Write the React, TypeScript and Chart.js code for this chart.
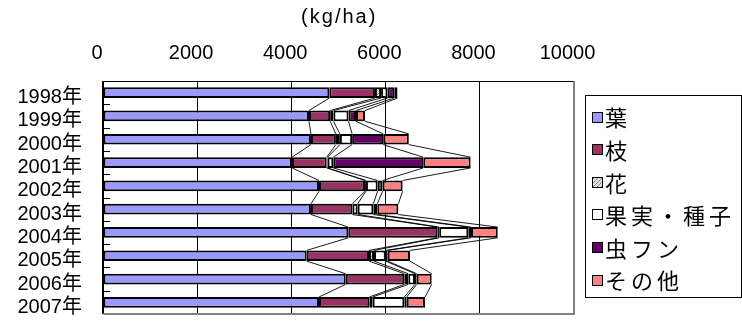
import React, { useEffect, useRef } from 'react';
import { Chart, registerables } from 'chart.js';

Chart.register(...registerables);

const categories = ['1998年', '1999年', '2000年', '2001年', '2002年', '2003年', '2004年', '2005年', '2006年', '2007年'];
const seriesNames = ['葉', '枝', '花', '果実・種子', '虫フン', 'その他'];
const leaves = [4810, 4378, 4420, 4017, 4591, 4420, 5214, 4329, 5158, 4591];
const branches = [970, 450, 530, 737, 978, 880, 1892, 1325, 1246, 1070];
const flowers = [130, 70, 85, 20, 20, 113, 40, 106, 85, 71];
const fruitsSeeds = [140, 320, 260, 120, 248, 332, 618, 248, 142, 672];
const frass = [140, 160, 660, 1913, 106, 85, 58, 43, 36, 51];
const others = [70, 190, 545, 1007, 425, 447, 568, 474, 319, 389];
const xTicks = [0, 2000, 4000, 6000, 8000, 10000];
const unitLabel = '(kg/ha)';

const FONT = "'Liberation Sans', Arial, 'Noto Sans CJK JP', sans-serif";
const CJK = "'Noto Sans CJK JP', 'Liberation Sans', sans-serif";

function makeHatch(): CanvasPattern | string {
  const c = document.createElement('canvas');
  c.width = 4;
  c.height = 4;
  const g = c.getContext('2d');
  if (!g) return '#C0C0C0';
  g.fillStyle = '#E0E0E0';
  g.fillRect(0, 0, 4, 4);
  g.fillStyle = '#8A8A8A';
  g.fillRect(0, 3, 1, 1);
  g.fillRect(1, 2, 1, 1);
  g.fillRect(2, 1, 1, 1);
  g.fillRect(3, 0, 1, 1);
  const p = g.createPattern(c, 'repeat');
  return p || '#C0C0C0';
}

const framePlugin = {
  id: 'frameAndSeriesLines',
  afterDatasetsDraw(chart: any) {
    const { ctx, chartArea } = chart;
    const { left, right, top, bottom } = chartArea;
    ctx.save();
    ctx.strokeStyle = '#000';
    ctx.lineWidth = 0.9;
    const n = chart.data.datasets.length;
    for (let d = 0; d < n; d++) {
      const els = chart.getDatasetMeta(d).data;
      for (let i = 0; i < els.length - 1; i++) {
        const a = els[i];
        const b = els[i + 1];
        ctx.beginPath();
        ctx.moveTo(a.x, a.y + a.height / 2);
        ctx.lineTo(b.x, b.y - b.height / 2);
        ctx.stroke();
      }
    }
    const count = chart.data.labels.length;
    const band = (bottom - top) / count;
    ctx.lineWidth = 1;
    for (let i = 1; i < count; i++) {
      const y = Math.round(top + band * i) + 0.5;
      ctx.beginPath();
      ctx.moveTo(left, y);
      ctx.lineTo(left + 7, y);
      ctx.stroke();
    }
    ctx.strokeStyle = '#000';
    ctx.lineWidth = 1;
    ctx.beginPath();
    ctx.moveTo(Math.round(left) + 0.5, Math.round(bottom));
    ctx.lineTo(Math.round(left) + 0.5, Math.round(top) + 0.5);
    ctx.lineTo(Math.round(right), Math.round(top) + 0.5);
    ctx.stroke();
    ctx.strokeStyle = '#808080';
    ctx.lineWidth = 2;
    ctx.beginPath();
    ctx.moveTo(Math.round(right), Math.round(top));
    ctx.lineTo(Math.round(right), Math.round(bottom));
    ctx.lineTo(Math.round(left), Math.round(bottom));
    ctx.stroke();
    ctx.restore();
  },
};

const legendTitlePlugin = {
  id: 'legendTitle',
  afterDraw(chart: any) {
    const { ctx, chartArea } = chart;
    ctx.save();
    ctx.fillStyle = '#000';
    ctx.font = `20px ${FONT}`;
    ctx.textAlign = 'center';
    ctx.textBaseline = 'middle';
    (ctx as any).letterSpacing = '2px';
    ctx.fillText(unitLabel, (chartArea.left + chartArea.right) / 2 + 1, 17);
    (ctx as any).letterSpacing = '0px';
    const boxL = 585.5, boxT = 95.5, boxR = 741.5, boxB = 297.5;
    ctx.strokeStyle = '#000';
    ctx.lineWidth = 1;
    ctx.strokeRect(boxL, boxT, boxR - boxL, boxB - boxT);
    ctx.font = `22px ${CJK}`;
    ctx.textAlign = 'left';
    chart.data.datasets.forEach((ds: any, i: number) => {
      const cy = 117 + i * 32.6;
      ctx.fillStyle = ds.backgroundColor;
      ctx.fillRect(593, Math.round(cy - 4.5), 9, 9);
      ctx.strokeStyle = '#000';
      ctx.strokeRect(592.5, Math.round(cy - 4.5) - 0.5, 10, 10);
      ctx.fillStyle = '#000';
      (ctx as any).letterSpacing = '4px';
      ctx.fillText(ds.label, 605, cy + 1);
      (ctx as any).letterSpacing = '0px';
    });
    ctx.restore();
  },
};

export default function App() {
  const ref = useRef<HTMLCanvasElement | null>(null);
  useEffect(() => {
    if (!ref.current) return;
    const hatch = makeHatch();
    const values = [leaves, branches, flowers, fruitsSeeds, frass, others];
    const colors: any[] = ['#9999FF', '#993366', hatch, '#FFFFFF', '#660066', '#FF8080'];
    const chart = new Chart(ref.current, {
      type: 'bar',
      data: {
        labels: categories,
        datasets: seriesNames.map((name, i) => ({
          label: name,
          data: values[i],
          backgroundColor: colors[i],
          borderColor: '#000',
          borderWidth: 2,
          borderSkipped: false,
          categoryPercentage: 1,
          barPercentage: 0.46,
        })),
      },
      options: {
        indexAxis: 'y',
        animation: false,
        responsive: false,
        devicePixelRatio: 1,
        layout: { padding: { left: 14.5, top: 38, right: 168.5, bottom: 4 } },
        plugins: {
          legend: { display: false },
          tooltip: { enabled: false },
          title: { display: false },
        },
        scales: {
          x: {
            type: 'linear',
            position: 'top',
            stacked: true,
            min: 0,
            max: 10000,
            afterBuildTicks: (axis: any) => {
              axis.ticks = xTicks.map((v) => ({ value: v }));
            },
            ticks: {
              color: '#000',
              font: { family: FONT, size: 20 },
              padding: 3,
              labelOffset: -6,
              maxRotation: 0,
              callback: (v: any) => String(v),
            },
            grid: {
              color: '#000',
              lineWidth: 1,
              drawTicks: true,
              tickLength: 13,
              tickColor: 'rgba(0,0,0,0)',
            },
            border: { display: false },
          },
          y: {
            type: 'category',
            stacked: true,
            ticks: {
              color: '#000',
              font: { family: FONT, size: 20 },
              padding: 3,
              labelOffset: 5,
              autoSkip: false,
            },
            grid: {
              drawOnChartArea: false,
              drawTicks: true,
              tickLength: 18,
              tickColor: 'rgba(0,0,0,0)',
            },
            border: { display: false },
          },
        },
      },
      plugins: [framePlugin, legendTitlePlugin],
    });
    return () => chart.destroy();
  }, []);
  return (
    <div style={{ position: 'absolute', left: 0, top: 0, width: 742, height: 329, background: '#fff' }}>
      <canvas ref={ref} width={742} height={329} />
    </div>
  );
}
